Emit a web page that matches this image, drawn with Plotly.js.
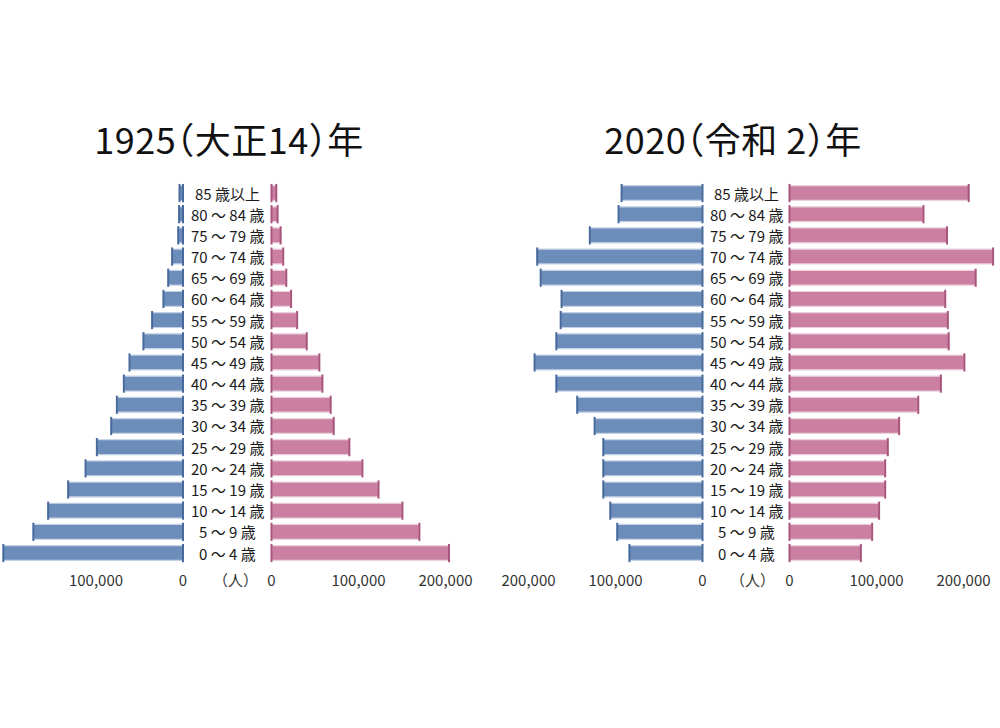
<!DOCTYPE html>
<html>
<head>
<meta charset="utf-8">
<script src="https://cdn.plot.ly/plotly-3.0.1.min.js"></script>
<style>
  html, body { margin: 0; padding: 0; background: #ffffff; }
  #chart { width: 1000px; height: 728px; }
  /* the two headings use half-width brackets */
  #chart .annotation[data-index="0"] text,
  #chart .annotation[data-index="1"] text { font-feature-settings: "halt"; letter-spacing: 0.5px; }
</style>
</head>
<body>
<div id="chart"></div>
<script>
// Age groups, youngest first (bottom of the pyramid)
const ageGroups = [
  '0 ～ 4 歳', '5 ～ 9 歳', '10 ～ 14 歳', '15 ～ 19 歳', '20 ～ 24 歳',
  '25 ～ 29 歳', '30 ～ 34 歳', '35 ～ 39 歳', '40 ～ 44 歳', '45 ～ 49 歳',
  '50 ～ 54 歳', '55 ～ 59 歳', '60 ～ 64 歳', '65 ～ 69 歳', '70 ～ 74 歳',
  '75 ～ 79 歳', '80 ～ 84 歳', '85 歳以上'
];

// Population (persons) by age group
const male1925 = [206500, 172000, 155000, 132000, 112000, 99000, 82500, 76000, 68000,
                  61500, 45500, 35500, 22500, 17000, 12500, 5500, 4500, 4000];
const female1925 = [204000, 170000, 150500, 123000, 104500, 89500, 71500, 68000, 58500,
                    55000, 40500, 29500, 22500, 17000, 13500, 10500, 7000, 5500];
const male2020 = [84000, 98000, 106000, 114000, 114000, 114000, 124000, 144000, 168000,
                  193000, 168000, 163000, 162000, 186000, 190000, 129500, 96500, 93000];
const female2020 = [82000, 95000, 103000, 110000, 110000, 113000, 126000, 148000, 174000,
                    201000, 183000, 182000, 179000, 214000, 234000, 181000, 154000, 206000];

const titles = ['1925（大正14）年', '2020（令和 2）年'];
const unitLabel = '（人）';

// Styling
const FONT = '"Noto Sans CJK JP", "Noto Sans", sans-serif';
const BLUE = '#6c8dba';
const BLUE_EDGE = '#47699b';
const BLUE_RIM = '#c3d1e6';
const PINK = '#cb80a1';
const PINK_EDGE = '#a8557d';
const PINK_RIM = '#ead0dc';

// Shared horizontal scale: pixels per person
const W = 1000;
const SCALE = 0.00087;

// One half-axis of a pyramid, from its pixel extent
function axisFor(leftPx, rightPx, zeroAtRight, tickvals) {
  const span = (rightPx - leftPx) / SCALE;
  return {
    domain: [leftPx / W, rightPx / W],
    range: zeroAtRight ? [span, 0] : [0, span],
    anchor: 'y',
    showgrid: false,
    zeroline: false,
    showline: false,
    ticks: '',
    tickvals: tickvals,
    tickformat: ',d',
    ticklabelstandoff: 6,
    tickfont: { family: FONT, size: 15, color: '#333333' },
    fixedrange: true
  };
}

function bars(x, xaxis, color, rim) {
  return {
    type: 'bar', orientation: 'h',
    x: x, y: ageGroups,
    xaxis: xaxis, yaxis: 'y',
    width: 0.7,
    marker: { color: color, line: { color: rim, width: 1.2 } },
    hoverinfo: 'skip', showlegend: false
  };
}

// Darker rims at both ends of each bar
function ends(x, xaxis, edge) {
  const xs = x.concat(x.map(() => 0));
  const ys = ageGroups.concat(ageGroups);
  return {
    type: 'scatter', mode: 'markers',
    x: xs, y: ys, xaxis: xaxis, yaxis: 'y',
    marker: { symbol: 'line-ns', size: 13, line: { color: edge, width: 2 } },
    hoverinfo: 'skip', showlegend: false, cliponaxis: false
  };
}

const data = [
  bars(male1925, 'x', BLUE, BLUE_RIM), ends(male1925, 'x', BLUE_EDGE),
  bars(female1925, 'x2', PINK, PINK_RIM), ends(female1925, 'x2', PINK_EDGE),
  bars(male2020, 'x3', BLUE, BLUE_RIM), ends(male2020, 'x3', BLUE_EDGE),
  bars(female2020, 'x4', PINK, PINK_RIM), ends(female2020, 'x4', PINK_EDGE)
];

const annotations = [];
// Headings (kept first so the stylesheet can address them)
[[0.229, titles[0]], [0.7325, titles[1]]].forEach(([cx, t]) => {
  annotations.push({
    x: cx, xref: 'paper', y: 0.81, yref: 'paper',
    text: t, showarrow: false, xanchor: 'center', yanchor: 'middle',
    font: { family: FONT, size: 36, color: '#111111' }
  });
});
// Age labels sit in the gap between the two halves of each pyramid
[0.227, 0.746].forEach(cx => {
  ageGroups.forEach(g => {
    annotations.push({
      x: cx, xref: 'paper', y: g, yref: 'y',
      text: g, showarrow: false, xanchor: 'center', yanchor: 'middle',
      font: { family: FONT, size: 15, color: '#1a1a1a' }
    });
  });
});
[0.235, 0.752].forEach(cx => {
  annotations.push({
    x: cx, xref: 'paper', y: 0.2035, yref: 'paper',
    text: unitLabel, showarrow: false, xanchor: 'center', yanchor: 'middle',
    font: { family: FONT, size: 15, color: '#333333' }
  });
});

const layout = {
  width: 1000, height: 728,
  margin: { l: 0, r: 0, t: 0, b: 0 },
  paper_bgcolor: '#ffffff', plot_bgcolor: 'rgba(0,0,0,0)',
  showlegend: false,
  barmode: 'overlay',
  xaxis: axisFor(0, 183, true, [100000, 0]),
  xaxis2: axisFor(271.5, 490, false, [0, 100000, 200000]),
  xaxis3: axisFor(510, 702.5, true, [200000, 100000, 0]),
  xaxis4: axisFor(789.5, 1000, false, [0, 100000, 200000]),
  yaxis: {
    domain: [0.2258, 0.7494],
    type: 'category',
    categoryorder: 'array', categoryarray: ageGroups,
    range: [-0.5, ageGroups.length - 0.5],
    showticklabels: false, showgrid: false, zeroline: false, showline: false,
    ticks: '', fixedrange: true
  },
  annotations: annotations
};

Plotly.newPlot('chart', data, layout, { staticPlot: true, displayModeBar: false });
</script>
</body>
</html>
